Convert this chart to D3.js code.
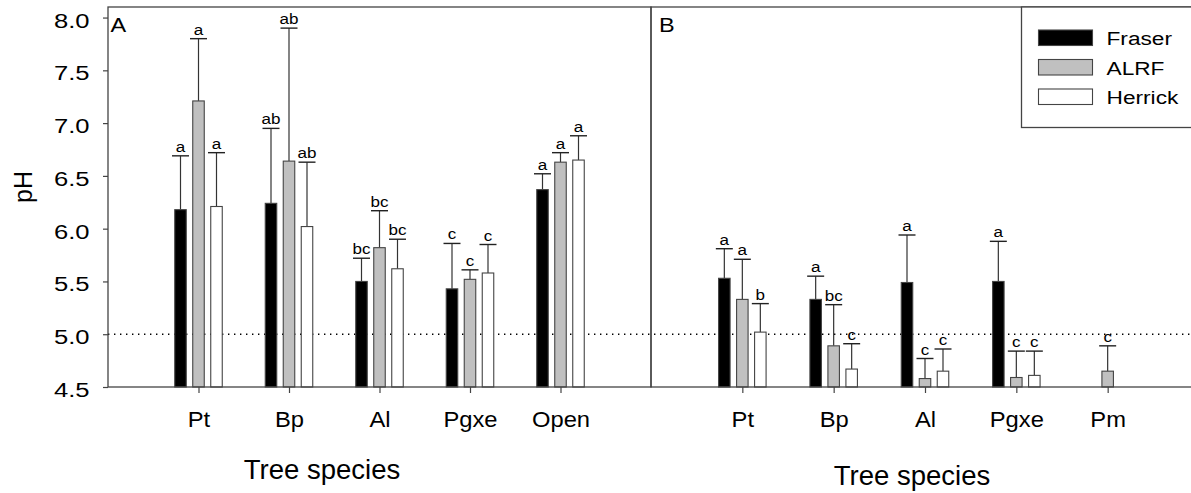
<!DOCTYPE html>
<html>
<head>
<meta charset="utf-8">
<script src="https://cdn.jsdelivr.net/npm/d3@7"></script>
<style>
  body { margin: 0; background: #fff; }
  svg text { font-family: Arial, "Liberation Sans", Helvetica, sans-serif; fill: #000; }
</style>
</head>
<body>
<script>
// categories
var catsA = ["Pt", "Bp", "Al", "Pgxe", "Open"];
var catsB = ["Pt", "Bp", "Al", "Pgxe", "Pm"];
var seriesNames = ["Fraser", "ALRF", "Herrick"];
var seriesFill = ["#000000", "#c0c0c0", "#ffffff"];
var yTicks = [4.5, 5.0, 5.5, 6.0, 6.5, 7.0, 7.5, 8.0];

// panel A means, errors, letters
var fraserA = [6.18, 6.24, 5.50, 5.43, 6.37];
var fraserAerr = [0.51, 0.71, 0.22, 0.43, 0.15];
var fraserAlet = ["a", "ab", "bc", "c", "a"];
var alrfA = [7.21, 6.64, 5.82, 5.52, 6.63];
var alrfAerr = [0.59, 1.26, 0.35, 0.09, 0.09];
var alrfAlet = ["a", "ab", "bc", "c", "a"];
var herrickA = [6.21, 6.02, 5.62, 5.58, 6.65];
var herrickAerr = [0.51, 0.61, 0.28, 0.27, 0.23];
var herrickAlet = ["a", "ab", "bc", "c", "a"];

// panel B
var fraserB = [5.53, 5.33, 5.49, 5.50, null];
var fraserBerr = [0.28, 0.22, 0.45, 0.38, null];
var fraserBlet = ["a", "a", "a", "a", null];
var alrfB = [5.33, 4.89, 4.58, 4.59, 4.65];
var alrfBerr = [0.38, 0.39, 0.19, 0.25, 0.24];
var alrfBlet = ["a", "bc", "c", "c", "c"];
var herrickB = [5.02, 4.67, 4.65, 4.61, null];
var herrickBerr = [0.27, 0.24, 0.21, 0.23, null];
var herrickBlet = ["b", "c", "c", "c", null];

var W = 1191, H = 493;
var plotTop = 7, plotBottom = 387;

var svg = d3.select("body").append("svg")
    .attr("width", W)
    .attr("height", H);

var y = d3.scaleLinear().domain([4.5, 8.1]).range([plotBottom, plotTop]);
var xA = d3.scaleLinear().domain([0, 6]).range([108, 651]);
var xB = d3.scaleLinear().domain([0, 6]).range([651, 1199]);

// the original lettering is a bit wider than Arial, sx stretches it
function stretchedText(g, x, yy, str, size, sx, anchor) {
    return g.append("text")
        .attr("transform", "translate(" + x + "," + yy + ") scale(" + sx + ",1)")
        .attr("text-anchor", anchor || "middle")
        .style("font-size", size + "px")
        .text(str);
}

// dotted reference line at pH 5
svg.append("line")
    .attr("x1", 108).attr("x2", W)
    .attr("y1", y(5)).attr("y2", y(5))
    .attr("stroke", "#000")
    .attr("stroke-width", 1.4)
    .attr("stroke-dasharray", "1.4,4.6");

function drawPanel(x, cats, means, errs, lets) {
    var g = svg.append("g");
    var offs = [-18, 0, 18];
    var bw = 11.5;
    means.forEach(function(vals, s) {
        vals.forEach(function(v, i) {
            if (v === null) return;
            var cx = x(i + 1) + offs[s];
            var cap = y(v + errs[s][i]);
            g.append("line")
                .attr("x1", cx).attr("x2", cx)
                .attr("y1", y(v)).attr("y2", cap)
                .attr("stroke", "#333").attr("stroke-width", 1.2);
            g.append("line")
                .attr("x1", cx - 8.5).attr("x2", cx + 8.5)
                .attr("y1", cap).attr("y2", cap)
                .attr("stroke", "#222").attr("stroke-width", 1.4);
            g.append("rect")
                .attr("x", cx - bw / 2)
                .attr("y", y(v))
                .attr("width", bw)
                .attr("height", plotBottom - y(v))
                .attr("fill", seriesFill[s])
                .attr("stroke", "#444")
                .attr("stroke-width", 1.1);
            stretchedText(g, cx, cap - 4, lets[s][i], 15.5, 1.1);
        });
    });

    var ax = g.append("g")
        .attr("transform", "translate(0," + plotBottom + ")")
        .call(d3.axisBottom(x)
            .tickValues([1, 2, 3, 4, 5])
            .tickFormat(function(d) { return cats[d - 1]; })
            .tickSize(6)
            .tickPadding(18));
    ax.select(".domain").remove();
    ax.selectAll("line").attr("stroke", "#444").attr("stroke-width", 1.2);
    ax.selectAll("text")
        .style("font-size", "22px")
        .attr("transform", "scale(1.08,1)");
    return g;
}

drawPanel(xA, catsA,
    [fraserA, alrfA, herrickA],
    [fraserAerr, alrfAerr, herrickAerr],
    [fraserAlet, alrfAlet, herrickAlet]);
drawPanel(xB, catsB,
    [fraserB, alrfB, herrickB],
    [fraserBerr, alrfBerr, herrickBerr],
    [fraserBlet, alrfBlet, herrickBlet]);

// frames
svg.append("rect")
    .attr("x", 108).attr("y", plotTop)
    .attr("width", 651 - 108).attr("height", plotBottom - plotTop)
    .attr("fill", "none").attr("stroke", "#444").attr("stroke-width", 1.3);
svg.append("rect")
    .attr("x", 651).attr("y", plotTop)
    .attr("width", 1199 - 651).attr("height", plotBottom - plotTop)
    .attr("fill", "none").attr("stroke", "#444").attr("stroke-width", 1.3);

// y axis
var yAx = svg.append("g")
    .attr("transform", "translate(108,0)")
    .call(d3.axisLeft(y)
        .tickValues(yTicks)
        .tickFormat(d3.format(".1f"))
        .tickSize(5)
        .tickPadding(13.5));
yAx.select(".domain").remove();
yAx.selectAll("line").attr("stroke", "#444").attr("stroke-width", 1.2);
yAx.selectAll("text")
    .style("font-size", "21px")
    .attr("x", -18.5 / 1.22)
    .attr("dy", "0.45em")
    .attr("transform", "scale(1.22,1)");

// axis titles
svg.append("text")
    .attr("transform", "translate(32,187) rotate(-90)")
    .attr("text-anchor", "middle")
    .style("font-size", "25px")
    .text("pH");
stretchedText(svg, 322, 479, "Tree species", 27.5, 1.0);
stretchedText(svg, 912, 485, "Tree species", 27.5, 1.0);

// panel letters
stretchedText(svg, 110.5, 32, "A", 21, 1.12, "start");
stretchedText(svg, 659, 32, "B", 21, 1.12, "start");

// legend
var leg = svg.append("g");
leg.append("rect")
    .attr("x", 1021.5).attr("y", plotTop)
    .attr("width", 200).attr("height", 127.5 - plotTop)
    .attr("fill", "#fff").attr("stroke", "#444").attr("stroke-width", 1.3);
seriesNames.forEach(function(name, i) {
    var ry = 30 + i * 29.5;
    leg.append("rect")
        .attr("x", 1038.5).attr("y", ry)
        .attr("width", 54).attr("height", 15.5)
        .attr("fill", seriesFill[i])
        .attr("stroke", "#444").attr("stroke-width", 1.1);
    stretchedText(leg, 1106.5, ry + 15, name, 18.6, 1.22, "start");
});
</script>
</body>
</html>
